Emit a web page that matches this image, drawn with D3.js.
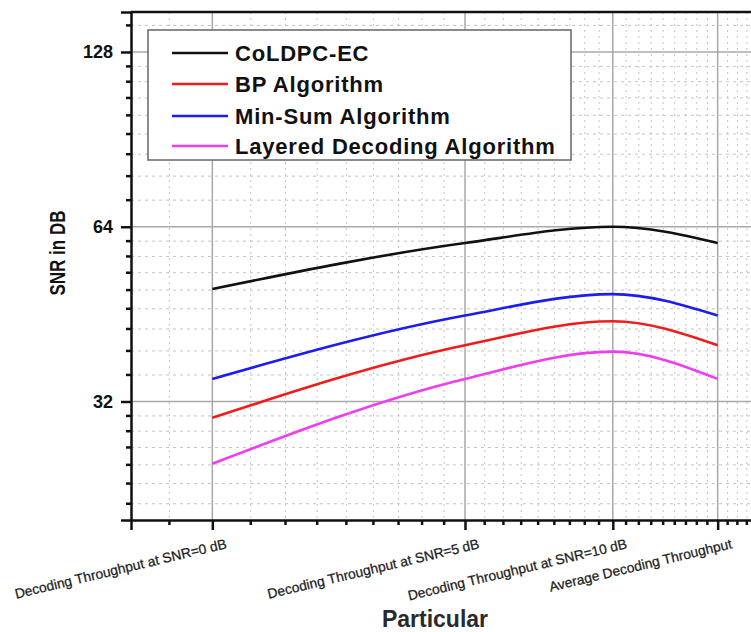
<!DOCTYPE html>
<html>
<head>
<meta charset="utf-8">
<script src="https://cdn.jsdelivr.net/npm/d3@7"></script>
<style>
  body { margin: 0; background: #fff; }
  svg { display: block; font-family: Arial, "Liberation Sans", sans-serif; }
</style>
</head>
<body>
<div id="chart"></div>
<script>
// categories sit on a log axis at positions 1..4
const categories = [
    "Decoding Throughput at SNR=0 dB",
    "Decoding Throughput at SNR=5 dB",
    "Decoding Throughput at SNR=10 dB",
    "Average Decoding Throughput"
];
const catIndex = [1, 2, 3, 4];

const coldpcEC = [50, 60, 64, 60];
const bpAlgorithm = [30, 40, 44, 40];
const minSumAlgorithm = [35, 45, 49, 45];
const layeredAlgorithm = [25, 35, 39, 35];

const seriesNames = ["CoLDPC-EC", "BP Algorithm", "Min-Sum Algorithm", "Layered Decoding Algorithm"];
const yTickValues = [32, 64, 128];

(function() {
    const W = 751, H = 632;
    const left = 131, top = 12, bottom = 520;

    const svg = d3.select("#chart").append("svg")
        .attr("width", W)
        .attr("height", H);

    const x = d3.scaleLog().domain([0.8, 5]).range([left, 799]);
    const y = d3.scaleLog().base(2).domain([20, 150]).range([bottom, top]);

    // minor tick values: 8 per interval, like Origin
    const xMinor = [];
    for (let m = 0; m < 5; m++) {
        for (let k = 1; k <= 8; k++) {
            const v = m + k / 9;
            if (v > 0.8 && v < 5) xMinor.push(v);
        }
    }
    const yMinor = [];
    for (let n = 4; n <= 7; n++) {
        const b = Math.pow(2, n);
        for (let k = 1; k <= 8; k++) {
            const v = b * (1 + k / 9);
            if (v > 20 && v < 150) yMinor.push(v);
        }
    }

    // minor grid
    svg.append("g")
        .selectAll("line")
        .data(xMinor)
        .join("line")
        .attr("x1", d => x(d)).attr("x2", d => x(d))
        .attr("y1", top).attr("y2", bottom)
        .attr("stroke", "#c4c4c4")
        .attr("stroke-width", 1)
        .attr("stroke-dasharray", "2,4");
    svg.append("g")
        .selectAll("line")
        .data(yMinor)
        .join("line")
        .attr("x1", left).attr("x2", W)
        .attr("y1", d => y(d)).attr("y2", d => y(d))
        .attr("stroke", "#c4c4c4")
        .attr("stroke-width", 1)
        .attr("stroke-dasharray", "3,4");

    // major grid
    svg.append("g")
        .selectAll("line")
        .data(catIndex)
        .join("line")
        .attr("x1", d => x(d)).attr("x2", d => x(d))
        .attr("y1", top).attr("y2", bottom)
        .attr("stroke", "#a8a8a8")
        .attr("stroke-width", 1.5);
    svg.append("g")
        .selectAll("line")
        .data(yTickValues)
        .join("line")
        .attr("x1", left).attr("x2", W)
        .attr("y1", d => y(d)).attr("y2", d => y(d))
        .attr("stroke", "#a8a8a8")
        .attr("stroke-width", 1.5);

    // lines
    const allSeries = [coldpcEC, bpAlgorithm, minSumAlgorithm, layeredAlgorithm];
    const colors = ["#111111", "#f01c1c", "#1c1cf0", "#f03cf0"];
    const line = d3.line()
        .x((d, i) => x(catIndex[i]))
        .y(d => y(d))
        .curve(d3.curveMonotoneX);

    svg.append("g")
        .selectAll("path")
        .data(allSeries)
        .join("path")
        .attr("fill", "none")
        .attr("stroke", (d, i) => colors[i])
        .attr("stroke-width", 2.6)
        .attr("d", line);

    // axes frame
    svg.append("line")
        .attr("x1", left).attr("x2", W)
        .attr("y1", top).attr("y2", top)
        .attr("stroke", "#111").attr("stroke-width", 2.5);

    const yAxis = d3.axisLeft(y)
        .tickValues(yTickValues)
        .tickFormat(d3.format("d"))
        .tickSize(10)
        .tickPadding(8);
    const gy = svg.append("g")
        .attr("transform", "translate(" + left + ",0)")
        .call(yAxis);
    gy.select(".domain").attr("stroke", "#111").attr("stroke-width", 2.5);
    gy.selectAll(".tick line").attr("stroke", "#111").attr("stroke-width", 2.5);
    gy.selectAll("text")
        .attr("fill", "#111")
        .style("font-size", "18px")
        .style("font-weight", "bold");
    gy.append("g")
        .selectAll("line")
        .data(yMinor)
        .join("line")
        .attr("x1", -5).attr("x2", 0)
        .attr("y1", d => y(d)).attr("y2", d => y(d))
        .attr("stroke", "#111").attr("stroke-width", 2.5);

    const xAxis = d3.axisBottom(x)
        .tickValues(catIndex)
        .tickFormat("")
        .tickSize(10);
    const gx = svg.append("g")
        .attr("transform", "translate(0," + bottom + ")")
        .call(xAxis);
    gx.select(".domain").attr("stroke", "#111").attr("stroke-width", 2.5);
    gx.selectAll(".tick line").attr("stroke", "#111").attr("stroke-width", 2.5);
    gx.append("g")
        .selectAll("line")
        .data(xMinor)
        .join("line")
        .attr("x1", d => x(d)).attr("x2", d => x(d))
        .attr("y1", 0).attr("y2", 5)
        .attr("stroke", "#111").attr("stroke-width", 2.5);

    // rotated category labels
    svg.append("g")
        .selectAll("text")
        .data(categories)
        .join("text")
        .attr("transform", (d, i) => "translate(" + (x(catIndex[i]) + 15) + ",548) rotate(-13.5)")
        .attr("text-anchor", "end")
        .style("font-size", "13.8px")
        .style("stroke", "#222")
        .style("stroke-width", 0.25)
        .attr("fill", "#1a1a1a")
        .text(d => d);

    // axis titles
    svg.append("text")
        .attr("transform", "translate(65,253) rotate(-90) scale(1,1.3)")
        .attr("text-anchor", "middle")
        .style("font-size", "17px")
        .style("font-weight", "bold")
        .attr("fill", "#111")
        .text("SNR in DB");

    svg.append("text")
        .attr("x", 435)
        .attr("y", 627)
        .attr("text-anchor", "middle")
        .style("font-size", "23px")
        .style("font-weight", "bold")
        .attr("fill", "#2a2a2a")
        .text("Particular");

    // legend
    const lg = svg.append("g");
    lg.append("rect")
        .attr("x", 148).attr("y", 30)
        .attr("width", 423).attr("height", 130)
        .attr("fill", "#fff")
        .attr("stroke", "#666")
        .attr("stroke-width", 1.5);
    const rowsY = [53, 84, 116, 146];
    seriesNames.forEach((name, i) => {
        lg.append("line")
            .attr("x1", 172).attr("x2", 228)
            .attr("y1", rowsY[i]).attr("y2", rowsY[i])
            .attr("stroke", colors[i])
            .attr("stroke-width", 2.6);
        lg.append("text")
            .attr("x", 235)
            .attr("y", rowsY[i] + 8)
            .style("font-size", "22px")
            .style("font-weight", "bold")
            .style("letter-spacing", "0.8px")
            .attr("fill", "#111")
            .text(name);
    });
})();
</script>
</body>
</html>
